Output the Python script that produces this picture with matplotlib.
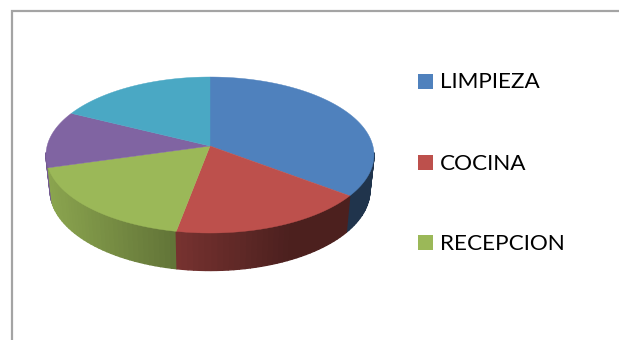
import numpy as np
import matplotlib
matplotlib.use('Agg')
import matplotlib.pyplot as plt
from matplotlib.patches import Polygon, Rectangle

# the legend is cut off in the picture, only three names can be read
labels = ['LIMPIEZA', 'COCINA', 'RECEPCION']
values = [6, 3, 3, 2, 3]
colors = ['#4f81bd', '#bd504c', '#9bb858', '#8064a2', '#4aa8c4']

hub_x, hub_y = 210, 146
a, b, p = 162.9, 76.96, 0.1154  # tilted disc, p = perspective
depth = 35


def project(theta):
    # theta clockwise from the top, in radians
    X, Y = np.sin(theta), np.cos(theta)
    w = 1 + p * Y
    return hub_x + a * X / w, hub_y - b * Y / w


def project_low(theta):
    x, y = project(theta)
    return hub_x + (x - hub_x) * 0.975, y + depth - 2.5 * np.cos(theta)


def shade(x):
    # side wall gets darker from left to right
    return np.interp(x, [46, 176, 290, 374], [0.90, 0.63, 0.40, 0.40])


fig = plt.figure(figsize=(6.19, 3.40), dpi=100)
ax = fig.add_axes([0, 0, 1, 1])
ax.set_xlim(0, 619)
ax.set_ylim(340, 0)
ax.axis('off')

# chart frame, right and bottom are outside the crop
ax.plot([11.5, 11.5, 619], [340, 11, 11], color='#a4a4a4', lw=1.6,
        solid_joinstyle='miter')

edges = np.cumsum([0] + values) / sum(values) * 2 * np.pi

# side wall, strips from back to front, back part is hidden anyway
strips = []
for i, col in enumerate(colors):
    th = np.linspace(edges[i], edges[i + 1], max(2, int(values[i] * 12)))
    for t0, t1 in zip(th[:-1], th[1:]):
        if np.cos((t0 + t1) / 2) < -0.1:
            strips.append((t0, t1, col))
strips.sort(key=lambda s: -np.cos(s[0]) - np.cos(s[1]))
for t0, t1, col in strips:
    x0, y0 = project(t0)
    x1, y1 = project(t1)
    x2, y2 = project_low(t1)
    x3, y3 = project_low(t0)
    rgb = np.array(matplotlib.colors.to_rgb(col)) * shade((x0 + x1) / 2)
    ax.add_patch(Polygon([(x0, y0), (x1, y1), (x2, y2), (x3, y3)],
                         closed=True, facecolor=rgb, edgecolor=rgb, lw=1.0))

# top of the pie
for i, col in enumerate(colors):
    th = np.linspace(edges[i], edges[i + 1], 120)
    xs, ys = project(th)
    pts = [(hub_x, hub_y)] + list(zip(xs, ys))
    ax.add_patch(Polygon(pts, closed=True, facecolor=col, edgecolor=col, lw=0.3))

# legend
legend_y = [81.5, 162.5, 242.5]
for name, col, y in zip(labels, colors, legend_y):
    ax.add_patch(Rectangle((418, y - 7.5), 15, 15, facecolor=col, edgecolor='none'))
    ax.text(440, y + 1, name, fontsize=16.2, family='Lato', color='black',
            va='center', ha='left')

fig.savefig('out.png', dpi=100)
